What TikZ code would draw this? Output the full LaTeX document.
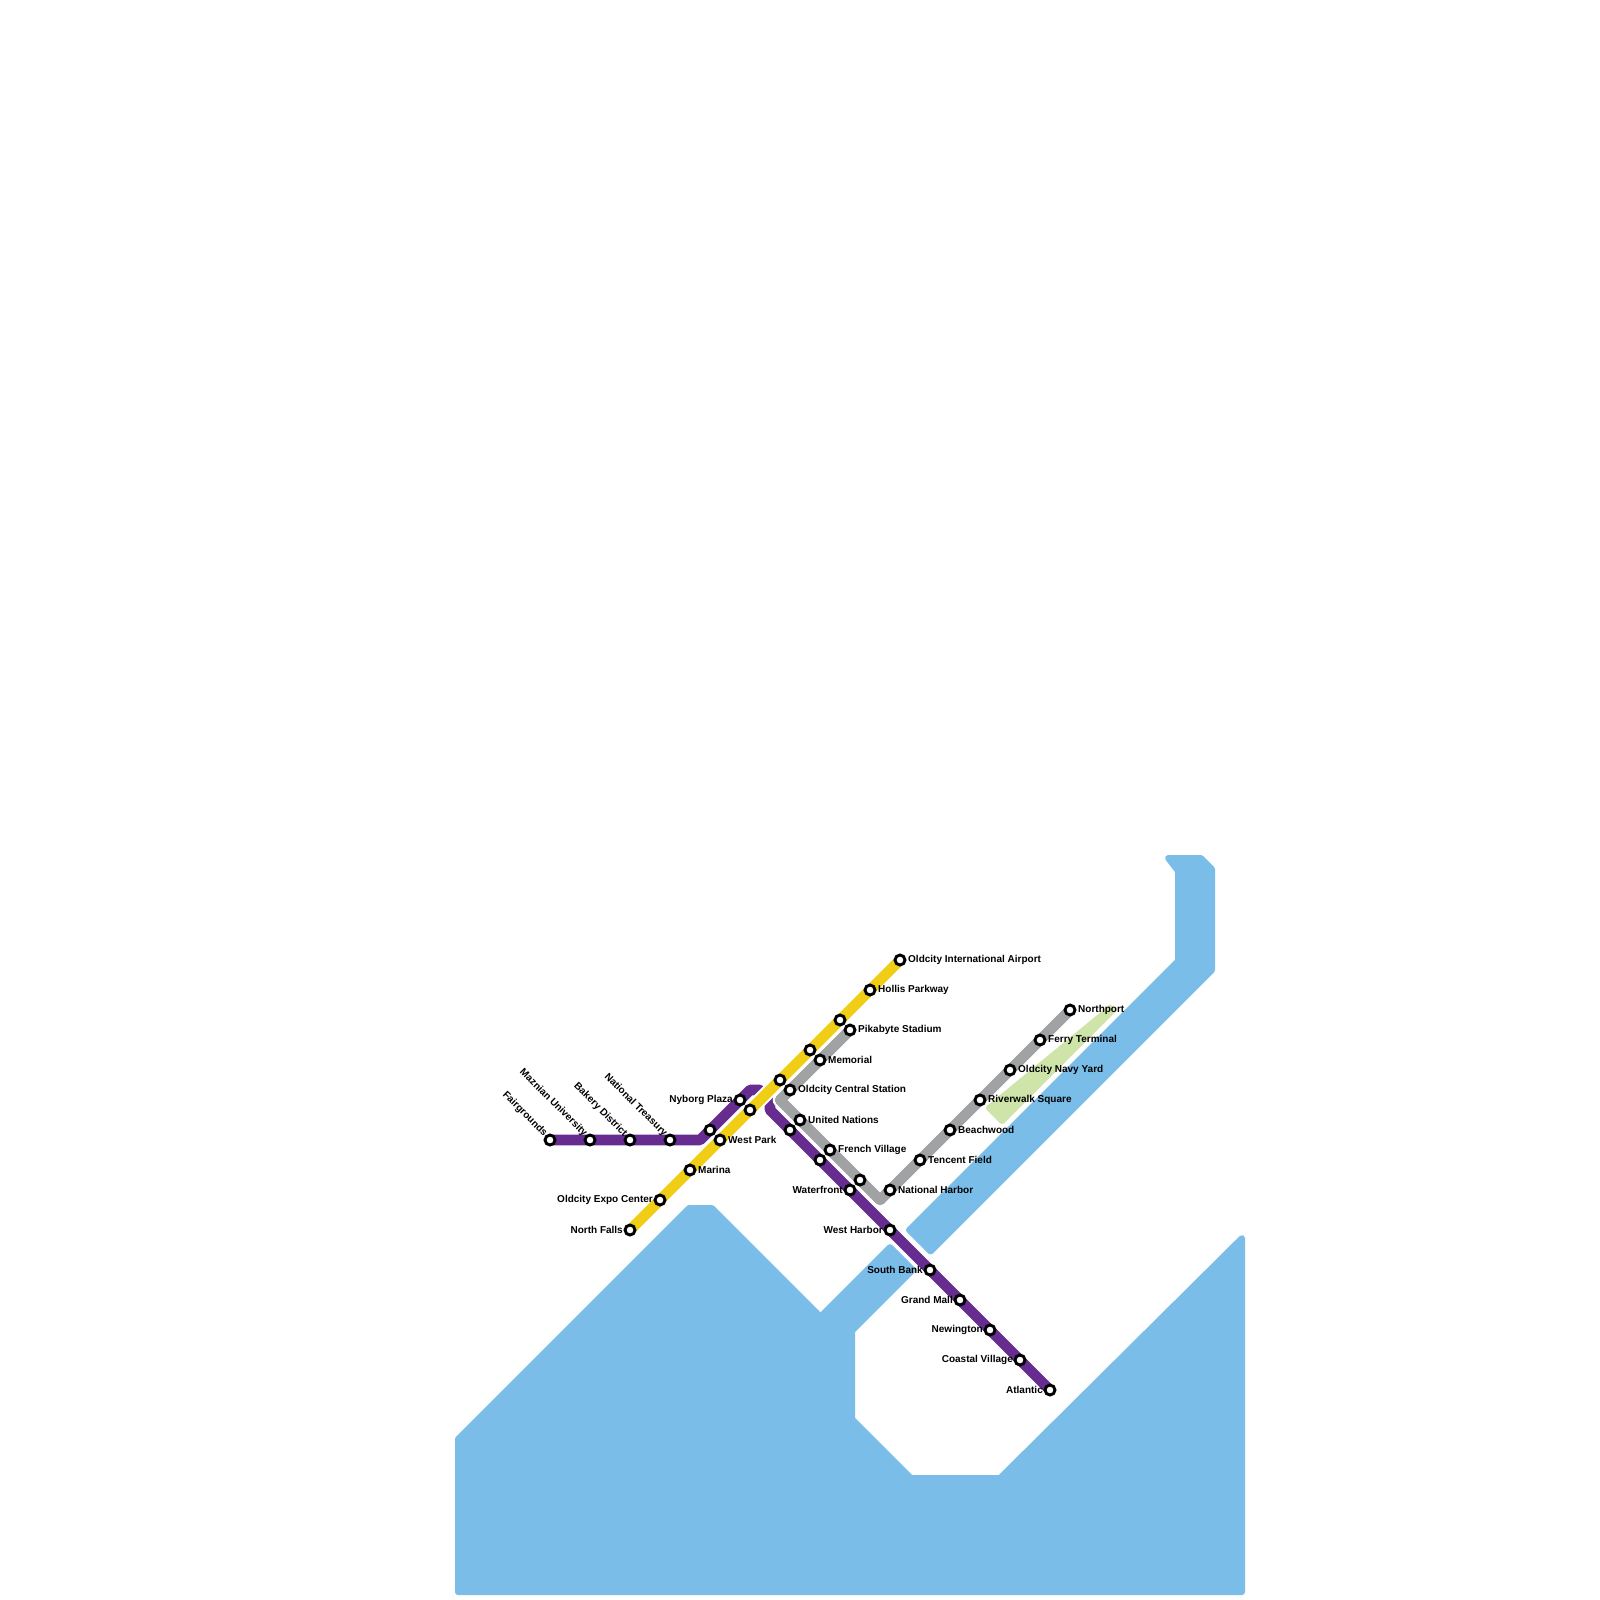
\documentclass[tikz,border=0pt]{standalone}
\usepackage{fontspec}
\setmainfont{Liberation Sans}[BoldFont={Liberation Sans Bold}]
\usetikzlibrary{backgrounds}
\definecolor{waterc}{HTML}{79BDE8}
\definecolor{parkc}{HTML}{CFE4A9}
\definecolor{purplec}{HTML}{662C90}
\definecolor{yellowc}{HTML}{F0CE15}
\definecolor{grayc}{HTML}{A1A2A3}
\tikzset{
  water/.style={fill=waterc,draw=waterc,line width=6pt,line join=round},
  park/.style={fill=parkc,draw=parkc,line width=6pt,line join=round},
  metro/.style={draw=white,line width=2pt,double=#1,double distance=10.6pt,line join=round,line cap=butt},
  stn/.style={circle,draw=black,fill=white,line width=2.9pt,minimum size=10pt,inner sep=0pt,outer sep=0pt},
  bendp/.style={inner sep=0pt,outer sep=0pt,minimum size=0pt},
  lab/.style={font=\bfseries\fontsize{10}{12}\selectfont,inner sep=0pt,text=black},
}
\newcommand\StaR[4]{\node[stn] (#1) at (#2,#3) {}; \node[lab,anchor=west] (#1-t) at (#2+8,#3-0.5) {#4};}
\newcommand\StaL[4]{\node[stn] (#1) at (#2,#3) {}; \node[lab,anchor=east] (#1-t) at (#2-7,#3-0.5) {#4};}
\newcommand\StaD[4]{\node[stn] (#1) at (#2,#3) {}; \node[lab,anchor=east,rotate=-45] (#1-t) at (#2-4.5,#3-5) {#4};}
\begin{document}
\begin{tikzpicture}[x=1pt,y=-1pt]
\useasboundingbox (0,0) rectangle (1600,1600);
% stations: purple
\StaD{p1}{550}{1140}{Fairgrounds}
\StaD{p2}{590}{1140}{Maznian University}
\StaD{p3}{630}{1140}{Bakery District}
\StaD{p4}{670}{1140}{National Treasury}
\node[bendp] (pb1) at (700,1140) {};
\node[stn] (p5) at (710,1130) {};
\StaL{p6}{740}{1100}{Nyborg Plaza}
\node[bendp] (pb2) at (750,1090) {};
\node[bendp] (pb3) at (760,1090) {};
\node[bendp] (pb4) at (770,1100) {};
\node[bendp] (pb5) at (770,1110) {};
\node[stn] (p7) at (790,1130) {};
\node[stn] (p8) at (820,1160) {};
\StaL{p9}{850}{1190}{Waterfront}
\StaL{p10}{890}{1230}{West Harbor}
\StaL{p11}{930}{1270}{South Bank}
\StaL{p12}{960}{1300}{Grand Mall}
\StaL{p13}{990}{1330}{Newington}
\StaL{p14}{1020}{1360}{Coastal Village}
\StaL{p15}{1050}{1390}{Atlantic}
% stations: yellow
\StaL{y1}{630}{1230}{North Falls}
\StaL{y2}{660}{1200}{Oldcity Expo Center}
\StaR{y3}{690}{1170}{Marina}
\StaR{y4}{720}{1140}{West Park}
\node[stn] (y5) at (750,1110) {};
\node[stn] (y6) at (780,1080) {};
\node[stn] (y7) at (810,1050) {};
\node[stn] (y8) at (840,1020) {};
\StaR{y9}{870}{990}{Hollis Parkway}
\StaR{y10}{900}{960}{Oldcity International Airport}
% stations: gray
\StaR{g1}{850}{1030}{Pikabyte Stadium}
\StaR{g2}{820}{1060}{Memorial}
\StaR{g3}{790}{1090}{Oldcity Central Station}
\node[bendp] (gb1) at (780,1100) {};
\StaR{g4}{800}{1120}{United Nations}
\StaR{g5}{830}{1150}{French Village}
\node[stn] (g6) at (860,1180) {};
\node[bendp] (gb2) at (880,1200) {};
\StaR{g7}{890}{1190}{National Harbor}
\StaR{g8}{920}{1160}{Tencent Field}
\StaR{g9}{950}{1130}{Beachwood}
\StaR{g10}{980}{1100}{Riverwalk Square}
\StaR{g11}{1010}{1070}{Oldcity Navy Yard}
\StaR{g12}{1040}{1040}{Ferry Terminal}
\StaR{g13}{1070}{1010}{Northport}
\begin{scope}[on background layer]
\fill[white] (0,0) rectangle (1600,1600);
% water and park
\draw[water] (458,1592) -- (458,1439) -- (689,1208) -- (711.8,1208) -- (820.5,1316.7)
  -- (890,1247.2) -- (912.8,1270) -- (852,1330.8) -- (852,1419.2) -- (910.8,1478)
  -- (1000,1478) -- (1242,1238) -- (1242,1592) -- cycle;
\draw[water] (1168,858) -- (1200.8,858) -- (1212,869.2) -- (1212,970) -- (930.6,1251.4)
  -- (909,1230) -- (1178,961) -- (1178,871) -- cycle;
\draw[park] (989,1108) -- (1108,1010) -- (1110,1008) -- (1113,1010) -- (1002,1121) -- cycle;
% lines
\draw[metro=purplec] (p1.center) -- (p2.center) -- (p3.center) -- (p4.center) -- (pb1.center)
  -- (p5.center) -- (p6.center) -- (pb2.center) -- (pb3.center) -- (pb4.center) -- (pb5.center)
  -- (p7.center) -- (p8.center) -- (p9.center) -- (p10.center) -- (p11.center) -- (p12.center)
  -- (p13.center) -- (p14.center) -- (p15.center);
\draw[metro=grayc] (g1.center) -- (g2.center) -- (g3.center) -- (gb1.center) -- (g4.center)
  -- (g5.center) -- (g6.center) -- (gb2.center) -- (g7.center) -- (g8.center) -- (g9.center)
  -- (g10.center) -- (g11.center) -- (g12.center) -- (g13.center);
\draw[metro=yellowc] (y1.center) -- (y2.center) -- (y3.center) -- (y4.center) -- (y5.center)
  -- (y6.center) -- (y7.center) -- (y8.center) -- (y9.center) -- (y10.center);
\end{scope}
\end{tikzpicture}
\end{document}
